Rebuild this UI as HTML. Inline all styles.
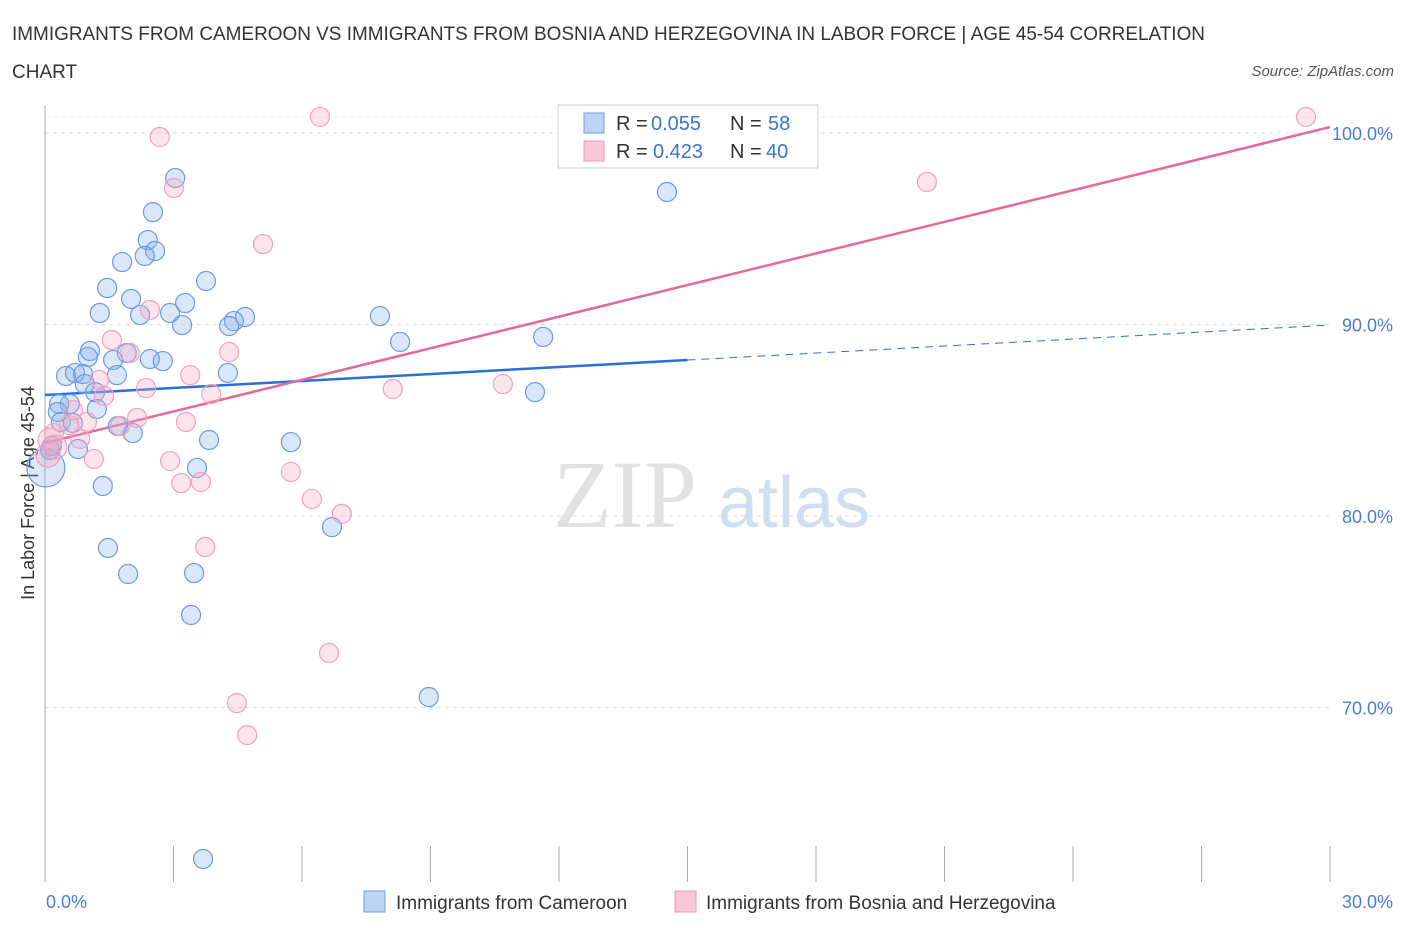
<!DOCTYPE html>
<html><head><meta charset="utf-8"><style>
body{margin:0;background:#fff;font-family:"Liberation Sans",sans-serif;}
</style></head><body>
<svg id="chart" width="1406" height="930" xmlns="http://www.w3.org/2000/svg" font-family="Liberation Sans, sans-serif">
<text x="12" y="40" font-size="19" fill="#333" textLength="1193" lengthAdjust="spacingAndGlyphs">IMMIGRANTS FROM CAMEROON VS IMMIGRANTS FROM BOSNIA AND HERZEGOVINA IN LABOR FORCE | AGE 45-54 CORRELATION</text>
<text x="12" y="78" font-size="19" fill="#333">CHART</text>
<text x="1394" y="76" font-size="15" fill="#555" font-style="italic" text-anchor="end">Source: ZipAtlas.com</text>
<text x="553" y="527" font-size="96" fill="#e2e2e2" style="font-family:'Liberation Serif',serif">ZIP</text>
<text x="718" y="527" font-size="72" fill="#cfdff2">atlas</text>
<text transform="translate(34,493) rotate(-90)" font-size="18" fill="#333" text-anchor="middle">In Labor Force | Age 45-54</text>
<g id="grid"></g>
<g id="axes"></g>
<g id="lines"></g>
<g id="points"></g>
<g>
<rect x="558" y="105" width="260" height="63" fill="#fff" stroke="#ccc"/>
<rect x="584" y="113" width="20" height="20" fill="#bcd5f5" stroke="#6a9ee0"/>
<text x="616" y="130" font-size="20" fill="#333">R =</text>
<text x="651" y="130" font-size="20" fill="#3a75d0">0.055</text>
<text x="730" y="130" font-size="20" fill="#333">N =</text>
<text x="768" y="130" font-size="20" fill="#3a75d0">58</text>
<rect x="584" y="141" width="20" height="20" fill="#f8c8d8" stroke="#e898b4"/>
<text x="616" y="158" font-size="20" fill="#333">R =</text>
<text x="653" y="158" font-size="20" fill="#3a75d0">0.423</text>
<text x="730" y="158" font-size="20" fill="#333">N =</text>
<text x="766" y="158" font-size="20" fill="#3a75d0">40</text>
</g>
<g>
<rect x="364" y="891" width="21" height="21" fill="#bcd5f5" stroke="#6a9ee0"/>
<text x="396" y="909" font-size="19" fill="#333">Immigrants from Cameroon</text>
<rect x="675" y="891" width="21" height="21" fill="#f8c8d8" stroke="#e898b4"/>
<text x="706" y="909" font-size="19" fill="#333">Immigrants from Bosnia and Herzegovina</text>
</g>
</svg>
<script>
const blueX=[3.04,2.52,2.40,2.57,2.33,1.80,3.76,1.45,2.01,3.27,1.28,2.22,2.92,3.20,4.67,4.41,4.30,7.82,8.29,11.63,1.05,1.91,1.59,2.45,2.75,1.00,0.49,0.70,0.89,1.68,4.27,0.93,1.17,11.44,1.21,0.58,0.33,0.30,0.37,0.65,1.70,2.05,3.83,5.74,0.12,0.77,3.55,1.35,6.70,1.47,1.94,3.48,3.41,8.96,3.69,14.52,0.02,0.16];
const blueY=[97.65,95.87,94.41,93.84,93.58,93.26,92.27,91.91,91.33,91.12,90.60,90.50,90.60,89.97,90.39,90.18,89.92,90.44,89.09,89.35,88.62,88.51,88.15,88.20,88.09,88.30,87.31,87.47,87.41,87.36,87.47,86.89,86.47,86.47,85.59,85.85,85.85,85.43,84.91,84.86,84.70,84.33,83.97,83.86,83.45,83.50,82.51,81.57,79.42,78.33,76.97,77.02,74.83,70.55,62.09,96.92,82.51,83.66];
const pinkX=[2.68,6.42,3.01,5.09,2.45,1.56,4.30,1.98,3.39,1.26,2.36,3.88,1.38,0.65,8.12,10.69,3.29,2.15,0.98,0.56,0.21,0.82,1.75,1.14,2.92,5.74,3.18,3.64,6.23,6.93,3.74,6.63,4.48,4.72,20.59,29.44,15.36,0.23,0.07,0.12];
const pinkY=[99.79,100.84,97.13,94.20,90.76,89.19,88.56,88.51,87.36,87.10,86.68,86.37,86.27,85.53,86.63,86.89,84.91,85.12,84.91,84.75,84.33,84.02,84.70,82.98,82.87,82.30,81.72,81.78,80.89,80.11,78.38,72.85,70.23,68.56,97.44,100.84,100.84,83.60,83.18,83.97];
const blueTrend=[86.32,89.97];
const pinkTrend=[83.81,100.31];
const yTicks=[100,90,80,70];
const yTickLabels=["100.0%","90.0%","80.0%","70.0%"];
const xTickLabels=["0.0%","30.0%"];

const NS="http://www.w3.org/2000/svg";
const X=v=>45+v/30*1285;
const Y=v=>133+(100-v)*19.15;
function mk(tag,attrs,parent){const e=document.createElementNS(NS,tag);for(const k in attrs)e.setAttribute(k,attrs[k]);document.getElementById(parent).appendChild(e);return e;}
yTicks.forEach((t,i)=>{
  const g=mk('line',{x1:45,x2:1330,y1:Y(t),y2:Y(t),stroke:'#ddd','stroke-dasharray':'4,4'},'grid');
  
  
  const l=mk('text',{x:1393,y:Y(t)+7,'font-size':18,fill:'#4a7fd0','text-anchor':'end'},'axes');
  l.textContent=yTickLabels[i];
  
  
});
mk('line',{x1:45,x2:1330,y1:117,y2:117,stroke:'#eee','stroke-dasharray':'4,4'},'grid');
const ax=mk('line',{x1:45,x2:45,y1:105,y2:882,stroke:'#aaa'},'axes');


for(let i=0;i<=10;i++){
  const t=mk('line',{x1:X(i*3),x2:X(i*3),y1:846,y2:882,stroke:'#aaa'},'axes');
  
  
}
const xl0=mk('text',{x:46,y:908,'font-size':18,fill:'#4a7fd0','text-anchor':'start'},'axes');xl0.textContent=xTickLabels[0];


const xl1=mk('text',{x:1393,y:908,'font-size':18,fill:'#4a7fd0','text-anchor':'end'},'axes');xl1.textContent=xTickLabels[1];


const bAt=x=>blueTrend[0]+(blueTrend[1]-blueTrend[0])*x/30;
const bl=mk('line',{x1:X(0),y1:Y(bAt(0)),x2:X(15),y2:Y(bAt(15)),stroke:'#2a6fd6','stroke-width':2.5},'lines');


const bd=mk('line',{x1:X(15),y1:Y(bAt(15)),x2:X(30),y2:Y(bAt(30)),stroke:'#2a6fd6','stroke-width':1,'stroke-dasharray':'8,6'},'lines');


const pl=mk('line',{x1:X(0),y1:Y(pinkTrend[0]),x2:X(30),y2:Y(pinkTrend[1]),stroke:'#e5689a','stroke-width':2.5},'lines');


blueX.forEach((x,i)=>{
  const c=mk('circle',{cx:X(x),cy:Y(blueY[i]),r:(i==56?19:9.5),fill:'rgba(130,175,235,0.3)',stroke:'#6b9ade','stroke-width':1.2},'points');
  
  
});
pinkX.forEach((x,i)=>{
  const c=mk('circle',{cx:X(x),cy:Y(pinkY[i]),r:(i>=37?12:9.5),fill:'rgba(245,165,195,0.3)',stroke:'#eea2bf','stroke-width':1.2},'points');
  
  
});
</script>
</body></html>
